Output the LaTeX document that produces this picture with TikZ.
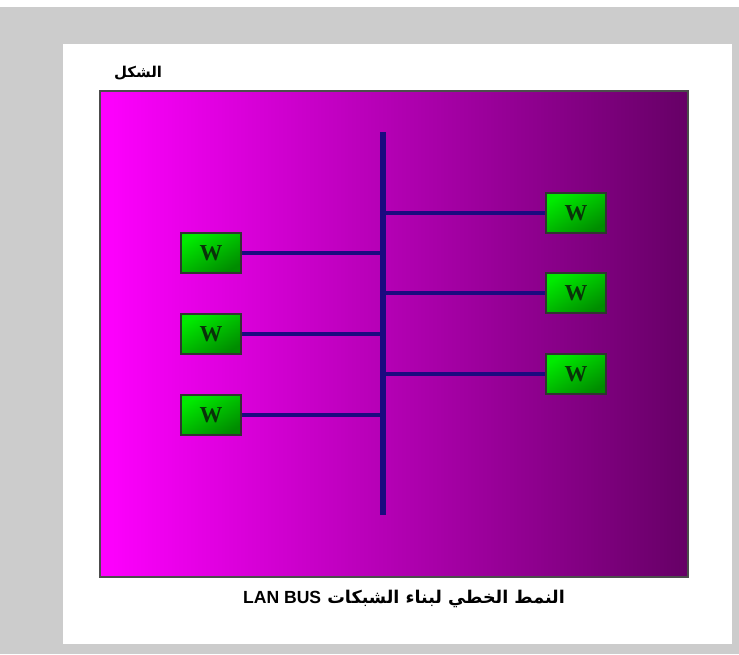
\documentclass[tikz,border=0pt]{standalone}
\usepackage{fontspec}
\setmainfont{Liberation Sans}
\newfontfamily\arabicfont[Script=Arabic]{DejaVu Sans}
\newfontfamily\wfont{Liberation Serif}
\usepackage{tikz}
\usetikzlibrary{
	positioning,
	backgrounds
}
\TeXXeTstate=1
\definecolor{PageGray}{RGB}{204,204,204}
\definecolor{BusBlue}{RGB}{28,10,128}
\definecolor{LanLeft}{RGB}{255,0,255}
\definecolor{LanRight}{RGB}{102,0,102}
\definecolor{BoxLight}{RGB}{0,235,0}
\definecolor{BoxDark}{RGB}{0,140,0}
\definecolor{WText}{RGB}{10,50,10}

\begin{document}
\begin{tikzpicture}[x=0.02cm, y=-0.02cm,
		wbox/.style={draw=black!80, line width=0.8pt, minimum width=1.2cm, minimum height=0.8cm, inner sep=0pt,
			left color=BoxLight, right color=BoxDark, shading angle=30, text=WText, font=\wfont\bfseries\fontsize{13}{15}\selectfont},
		link/.style={draw=BusBlue, line width=2.3pt},
		bus/.style={draw=BusBlue, line width=3.4pt},
		arabtext/.style={font=\arabicfont\bfseries\fontsize{10}{12}\selectfont}]
			\useasboundingbox[fill=PageGray] (0,0) rectangle (739,654);
			\fill[white] (0,0) rectangle (739,7);
			\fill[white] (63,44) rectangle (732,644);
			\shade[left color=LanLeft, right color=LanRight] (100,91) rectangle (688,577);
			\draw[black!70, line width=0.6pt] (100,91) rectangle (688,577);
			\node[arabtext, font=\arabicfont\bfseries\fontsize{8.5}{10}\selectfont] (title) at (138,73) {\beginR الشكل\endR};
			\node[arabtext] (caption) at (404,599) {\beginR النمط الخطي لبناء الشبكات {\rmfamily\bfseries\beginL LAN BUS\endL}\endR};
			\coordinate (bustop) at (383,132);
			\coordinate (busbot) at (383,515);
			\draw[bus] (bustop) -- (busbot);
			\foreach \i/\y in {1/253,2/334,3/415} {
				\node[wbox] (wl\i) at (211,\y) {W};
				\draw[link] (wl\i) -- (wl\i -| bustop);
			}
			\foreach \i/\y in {1/213,2/293,3/374} {
				\node[wbox] (wr\i) at (576,\y) {W};
				\draw[link] (wr\i) -- (wr\i -| bustop);
			}
		\end{tikzpicture}
\end{document}
